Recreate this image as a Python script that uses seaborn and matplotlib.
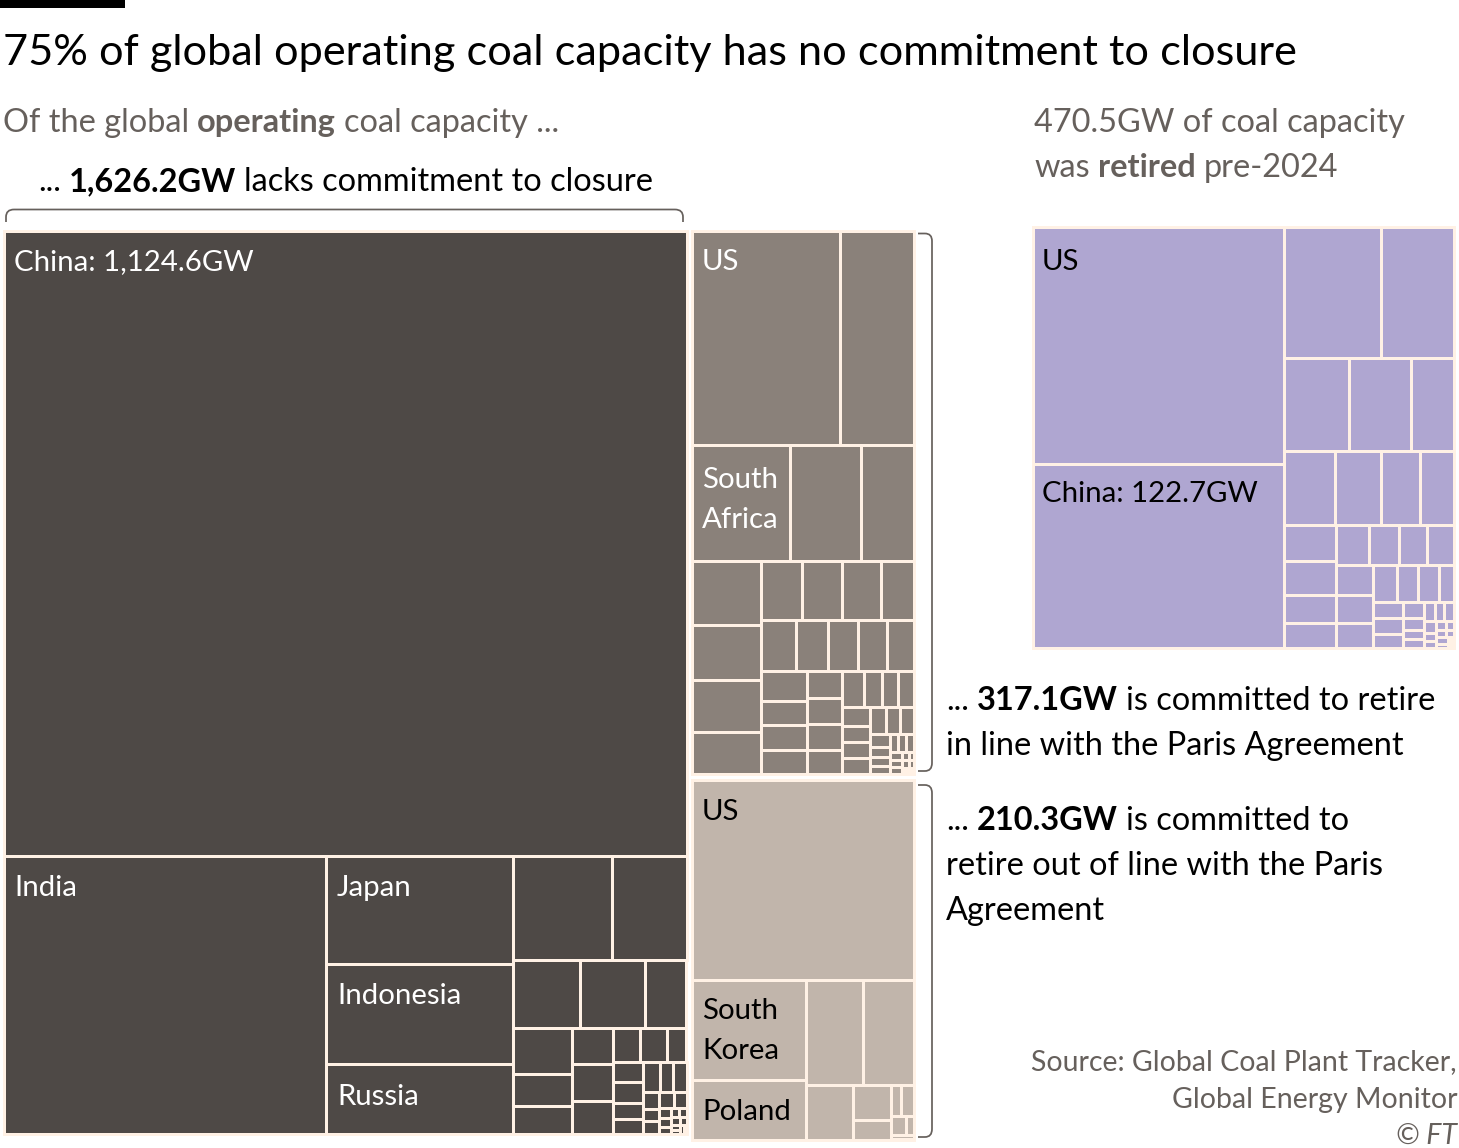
import matplotlib
matplotlib.use("Agg")
import matplotlib.pyplot as plt
from matplotlib.patches import Rectangle, PathPatch
from matplotlib.path import Path
import seaborn as sns

# capacity per plant group in GW, biggest first. the *_strips lists say how many
# cells go in each strip of the treemap
no_commit_gw = [1124.6, 235.5, 53, 49.5, 34.5, 27, 20.4, 12, 11.5, 7.5, 7.1, 5.0, 4.4, 3.9, 3.9, 3.6,
                2.4, 2.4, 1.7, 1.6, 1.6, 1.25, 1.15, 1.4, 1.1, 1.06, .72, .54, .55, .6, .5,
                .33, .27, .21, .22, .18, .18, .14, .12, .1, .08, .07]
no_commit_strips = [1, 1, 3, 2, 3, 3, 3, 3, 4, 3, 3, 2, 3, 2, 2, 2, 2]

paris_gw = [83.5, 41.5, 30, 21.7, 16, 11.5, 10, 9.5, 7.5, 6.5, 6.1, 6.1, 5.1, 4.8, 4.2, 4.1, 3.9, 3.6,
            3.6, 3.0, 3.0, 2.9, 2.45, 2.45, 2.35, 2.25, 2.1, 1.66, 1.48, 1.48, 1.4, 1.2, 1.2, 1.15,
            1.1, 1.0, .95, .71, .5, .45, .42, .42, .38, .35, .28, .25, .22, .14, .12, .12, .1, .1, .08]
paris_strips = [2, 3, 4, 4, 5, 4, 4, 4, 4, 3, 4, 3, 3, 2, 2, 2]

off_track_gw = [116.5, 30, 17.9, 15.8, 14.1, 6.8, 3.5, 2.0, .82, 1.06, .78, .38, .22, .08]
off_track_strips = [1, 2, 2, 1, 2, 2, 2, 2]

retired_gw = [158, 122.7, 34, 25.4, 16.1, 15.1, 10.7, 10.1, 8.9, 7.7, 6.7, 4.9, 4.8, 3.8, 3.45,
              3.5, 3.2, 3.0, 2.85, 2.9, 2.8, 2.4, 2.4, 2.05, 2.05, 1.43, 1.34, 1.28, 1.12,
              .93, .65, .52, .5, .52, .5, .5, .38, .25, .22, .22, .2, .18, .15, .2, .12, .1, .08]
retired_strips = [2, 2, 3, 4, 4, 4, 3, 4, 3, 4, 3, 3, 2, 2, 2, 2]

CREAM = "#fff1e5"
DARK = "#4e4946"
MID = "#8a817a"
TAN = "#c1b5ab"
PURPLE = "#afa6d1"
GREY = "#66605c"
FONT = ["Lato", "DejaVu Sans"]


def treemap_cells(values, strips, x0, y0, x1, y1):
    # same idea as d3 squarify, only the strip breaks are given
    scale = (x1 - x0) * (y1 - y0) / sum(values)
    cells = []
    i = 0
    for n in strips:
        chunk = values[i:i + n]
        i += n
        w, h = x1 - x0, y1 - y0
        area = sum(chunk) * scale
        if w < h:
            t = area / w
            x = x0
            for v in chunk:
                cw = v * scale / t
                cells.append((x, y0, cw, t))
                x += cw
            y0 += t
        else:
            t = area / h
            y = y0
            for v in chunk:
                ch = v * scale / t
                cells.append((x0, y, t, ch))
                y += ch
            x0 += t
    return cells


def draw_treemap(ax, values, strips, box, color):
    for x, y, w, h in treemap_cells(values, strips, *box):
        ax.add_patch(Rectangle((x, y), w, h, facecolor=color, edgecolor=CREAM, linewidth=2.16))


def rich_text(ax, x, y, parts, size, color="black", gap=0.25):
    # parts are (text, bold) pairs, set one after the other on a baseline
    renderer = ax.figure.canvas.get_renderer()
    for text, bold in parts:
        t = ax.text(x, y, text, fontsize=size, color=color, va="baseline", family=FONT,
                    fontweight="bold" if bold else "normal")
        x = t.get_window_extent(renderer).x1 + gap * size / 0.72


def bracket(ax, verts):
    codes = [Path.MOVETO, Path.LINETO, Path.CURVE3, Path.CURVE3, Path.LINETO, Path.CURVE3, Path.CURVE3, Path.LINETO]
    ax.add_patch(PathPatch(Path(verts, codes), fill=False, edgecolor=GREY, linewidth=1.25))


sns.set_theme(style="white")
plt.rcParams["font.family"] = FONT

fig, ax = plt.subplots(figsize=(14.59, 11.48), dpi=100)
ax.set_position([0, 0, 1, 1])
ax.set_xlim(0, 1459)
ax.set_ylim(1148, 0)
ax.axis("off")
fig.canvas.draw()

draw_treemap(ax, no_commit_gw, no_commit_strips, (3.5, 230.5, 686.5, 1134), DARK)
draw_treemap(ax, paris_gw, paris_strips, (692, 230.5, 913.7, 774), MID)
draw_treemap(ax, off_track_gw, off_track_strips, (692, 780, 913.7, 1140), TAN)
draw_treemap(ax, retired_gw, retired_strips, (1033, 227, 1454, 648), PURPLE)

ax.add_patch(Rectangle((0, 0), 125, 8, facecolor="black", edgecolor="none"))

bracket(ax, [(6, 222), (6, 217), (6, 209.5), (14, 209.5), (675, 209.5), (683, 209.5), (683, 217), (683, 222)])
bracket(ax, [(918, 233.5), (925, 233.5), (932, 233.5), (932, 241), (932, 763), (932, 771), (925, 771), (918, 771)])
bracket(ax, [(918, 785), (925, 785), (932, 785), (932, 793), (932, 1129), (932, 1137), (925, 1137), (918, 1137)])

TITLE_SIZE = 31.15
SUB_SIZE = 23.4
LABEL_SIZE = 21.2
SOURCE_SIZE = 20.5

rich_text(ax, 3, 65, [("75% of global operating coal capacity has no commitment to closure", False)], TITLE_SIZE)

rich_text(ax, 3, 132, [("Of the global", False), ("operating", True), ("coal capacity ...", False)], SUB_SIZE, GREY)
rich_text(ax, 38, 191, [("...", False), ("1,626.2GW", True), ("lacks commitment to closure", False)], SUB_SIZE)
rich_text(ax, 1034, 132, [("470.5GW of coal capacity", False)], SUB_SIZE, GREY)
rich_text(ax, 1034, 177, [("was", False), ("retired", True), ("pre-2024", False)], SUB_SIZE, GREY)

rich_text(ax, 946, 710, [("...", False), ("317.1GW", True), ("is committed to retire", False)], SUB_SIZE)
rich_text(ax, 946, 755, [("in line with the Paris Agreement", False)], SUB_SIZE)
rich_text(ax, 946, 830, [("...", False), ("210.3GW", True), ("is committed to", False)], SUB_SIZE)
rich_text(ax, 946, 875, [("retire out of line with the Paris", False)], SUB_SIZE)
rich_text(ax, 946, 920, [("Agreement", False)], SUB_SIZE)

for x, y, label, color in [
    (14, 270, "China: 1,124.6GW", "white"),
    (14, 896, "India", "white"),
    (337, 896, "Japan", "white"),
    (337, 1004, "Indonesia", "white"),
    (337, 1105, "Russia", "white"),
    (702, 270, "US", "white"),
    (702, 488, "South", "white"),
    (702, 528, "Africa", "white"),
    (702, 820, "US", "black"),
    (702, 1019, "South", "black"),
    (702, 1059, "Korea", "black"),
    (702, 1120, "Poland", "black"),
    (1042, 270, "US", "black"),
    (1042, 502, "China: 122.7GW", "black"),
]:
    ax.text(x, y, label, fontsize=LABEL_SIZE, color=color, va="baseline", family=FONT)

ax.text(1457, 1070, "Source: Global Coal Plant Tracker,", fontsize=SOURCE_SIZE, color=GREY, ha="right", va="baseline", family=FONT)
ax.text(1457, 1108, "Global Energy Monitor", fontsize=SOURCE_SIZE, color=GREY, ha="right", va="baseline", family=FONT)
ax.text(1457, 1144, "© FT", fontsize=SOURCE_SIZE, color=GREY, ha="right", va="baseline", family=FONT, style="italic")

fig.savefig("out.png", dpi=100, facecolor="white")
plt.close(fig)
